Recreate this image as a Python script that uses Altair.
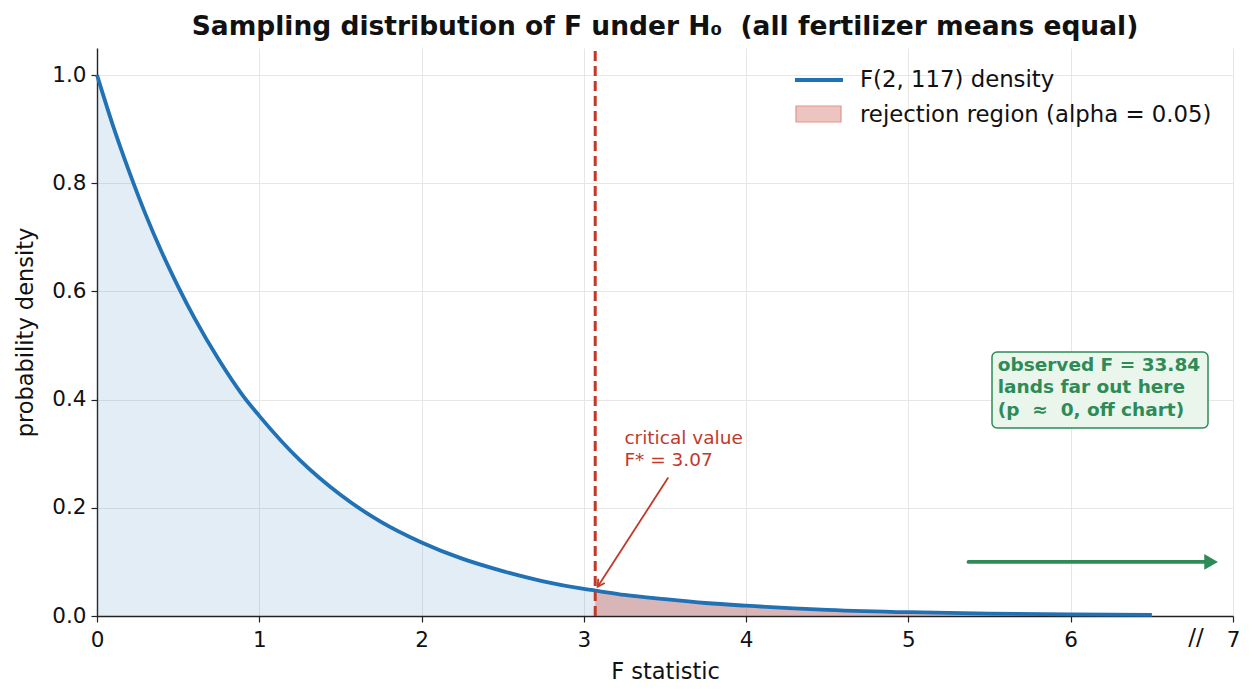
import altair as alt
import pandas as pd

# F(2, 117) density, sampled along the F axis
f_values = [0.0, 0.1, 0.2, 0.3, 0.4, 0.5, 0.6, 0.75, 0.9, 1.0, 1.25, 1.5, 1.75, 2.0,
            2.25, 2.5, 2.75, 3.0, 3.07, 3.25, 3.5, 3.75, 4.0, 4.5, 5.0, 5.5, 6.0, 6.5]
density = [1.0, 0.905, 0.82, 0.742, 0.672, 0.609, 0.551, 0.474, 0.407, 0.370, 0.288,
           0.224, 0.174, 0.136, 0.106, 0.083, 0.064, 0.050, 0.047, 0.039, 0.031, 0.024,
           0.019, 0.0115, 0.007, 0.0045, 0.003, 0.002]

critical_value = 3.07
observed_f = 33.84

x_ticks = [0, 1, 2, 3, 4, 5, 6, 7]
y_ticks = [0.0, 0.2, 0.4, 0.6, 0.8, 1.0]

BLUE = "#2171b5"
RED = "#c0392b"
GREEN = "#2e8b57"
FONT = "DejaVu Sans"
NBSP = "\u00a0"

curve = pd.DataFrame({"F": f_values, "density": density})
tail = curve[curve["F"] >= critical_value]

x_scale = alt.Scale(domain=[0, 7], nice=False, zero=False)
y_scale = alt.Scale(domain=[0, 1.05], nice=False)

axis_style = dict(labelFontSize=21.5, titleFontSize=22.5, titleFontWeight="normal",
                  tickSize=6, tickWidth=1.2, domainWidth=1.4,
                  domainColor="#222222", tickColor="#222222",
                  labelColor="#111111", titleColor="#111111",
                  gridColor="#e6e6e6", labelFont=FONT, titleFont=FONT,
                  labelFlush=False)

x_enc = alt.X("F:Q", scale=x_scale,
              axis=alt.Axis(title="F statistic", values=x_ticks, format="d",
                            labelPadding=7, titlePadding=10, **axis_style))
y_enc = alt.Y("density:Q", scale=y_scale,
              axis=alt.Axis(title="probability density", values=y_ticks, format=".1f",
                            labelPadding=5, titlePadding=14, **axis_style))

base = alt.Chart(curve)

fill_all = base.mark_area(color="#1f77b4", opacity=0.13, interpolate="monotone").encode(
    x=x_enc, y=y_enc)
fill_tail = alt.Chart(tail).mark_area(color=RED, opacity=0.3, interpolate="monotone").encode(
    x="F:Q", y="density:Q")
line = base.mark_line(color=BLUE, strokeWidth=3.8, interpolate="monotone").encode(
    x="F:Q", y="density:Q")

crit = pd.DataFrame({"F": [critical_value], "y0": [0.0], "y1": [1.05]})
crit_rule = alt.Chart(crit).mark_rule(color=RED, strokeWidth=3, strokeDash=[10, 5]).encode(
    x="F:Q", y="y0:Q", y2="y1:Q")

# critical value label and its arrow
crit_label = pd.DataFrame({"F": [3.25], "density": [0.329],
                           "text": [["critical value", f"F* = {critical_value:.2f}"]]})
crit_text = alt.Chart(crit_label).mark_text(
    align="left", baseline="middle", color=RED, fontSize=18.5, font=FONT, lineHeight=22
).encode(x="F:Q", y="density:Q", text="text")

crit_arrow = pd.DataFrame({"x0": [3.52], "y0": [0.256], "x1": [3.085], "y1": [0.054]})
crit_shaft = alt.Chart(crit_arrow).mark_rule(color=RED, strokeWidth=1.8).encode(
    x="x0:Q", y="y0:Q", x2="x1:Q", y2="y1:Q")
crit_head = alt.Chart(crit_arrow).mark_point(
    shape="M-0.55,1 L0,0 L0.55,1", filled=False, color=RED, strokeWidth=1.8,
    size=200, angle=213, opacity=1
).encode(x="x1:Q", y="y1:Q")

# observed F annotation
obs_box = pd.DataFrame({"x0": [5.515], "x1": [6.846], "y0": [0.3475], "y1": [0.488]})
obs_rect = alt.Chart(obs_box).mark_rect(
    fill="#eaf5ec", stroke=GREEN, strokeWidth=1.5, cornerRadius=5
).encode(x="x0:Q", x2="x1:Q", y="y0:Q", y2="y1:Q")
obs_label = pd.DataFrame({"F": [5.55], "density": [0.464],
                          "text": [[f"observed F = {observed_f:.2f}",
                                    "lands far out here",
                                    f"(p{NBSP}{NBSP}\u2248{NBSP}{NBSP}0, off chart)"]]})
obs_text = alt.Chart(obs_label).mark_text(
    align="left", baseline="middle", color=GREEN, fontSize=18.5, fontWeight="bold",
    font=FONT, lineHeight=22.5
).encode(x="F:Q", y="density:Q", text="text")

obs_arrow = pd.DataFrame({"x0": [5.37], "x1": [6.83], "xt": [6.865], "y": [0.1]})
obs_shaft = alt.Chart(obs_arrow).mark_rule(color=GREEN, strokeWidth=3.8, strokeCap="round").encode(
    x="x0:Q", x2="x1:Q", y="y:Q")
obs_head = alt.Chart(obs_arrow).mark_point(
    shape="triangle-right", filled=True, color=GREEN, size=250, opacity=1
).encode(x="xt:Q", y="y:Q")

# axis break marker next to 7
axis_break = alt.Chart(pd.DataFrame({"t": ["//"]})).mark_text(
    fontSize=23, font=FONT, color="#111111", align="center", baseline="middle"
).encode(x=alt.value(1099), y=alt.value(590), text="t:N")

# legend
legend_line = alt.Chart(pd.DataFrame({"k": [0]})).mark_rule(color=BLUE, strokeWidth=4).encode(
    x=alt.value(698), x2=alt.value(746), y=alt.value(32))
legend_patch = alt.Chart(pd.DataFrame({"k": [0]})).mark_rect(
    fill="#ecc5c1", stroke="#e0958e", strokeWidth=1.2).encode(
    x=alt.value(699), x2=alt.value(744), y=alt.value(58), y2=alt.value(74))
legend_text = alt.Chart(pd.DataFrame({
    "label": ["F(2, 117) density", "rejection region (alpha = 0.05)"],
    "ypos": [32, 67]})).mark_text(
    align="left", baseline="middle", fontSize=22.8, font=FONT, color="#111111"
).encode(x=alt.value(763), y=alt.Y("ypos:Q", scale=None), text="label:N")

chart = alt.layer(
    fill_all, fill_tail, line, crit_rule, crit_shaft, crit_head, crit_text,
    obs_rect, obs_text, obs_shaft, obs_head, axis_break,
    legend_line, legend_patch, legend_text
).properties(
    width=1136, height=568,
    title=alt.TitleParams(
        f"Sampling distribution of F under H\u2080{NBSP}{NBSP}(all fertilizer means equal)",
        fontSize=26.5, fontWeight="bold", font=FONT, color="#111111", anchor="middle",
        offset=6),
    autosize=alt.AutoSizeParams(type="none"),
    padding={"left": 97, "top": 48, "right": 22, "bottom": 84},
    background="white",
).configure_view(stroke=None).configure_axis(grid=True)

chart.save("out.html", embed_options={"renderer": "svg", "actions": False})
